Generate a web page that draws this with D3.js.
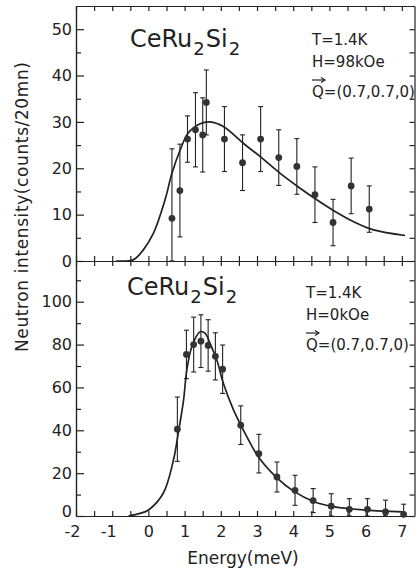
<!DOCTYPE html>
<html>
  <head>
    <meta charset="utf-8" />
    <script src="https://cdn.jsdelivr.net/npm/d3@7"></script>
    <style>
      body { margin: 0; background: #fff; }
      text { font-family: "DejaVu Sans", sans-serif; fill: #222; }
    </style>
  </head>
  <body>
    <div id="my_dataviz"></div>
    <script>
      // ---- data ----
      // top panel, H = 98 kOe
      var topE = [0.65, 0.87, 1.08, 1.3, 1.5, 1.6, 2.1, 2.6, 3.1, 3.6, 4.1, 4.6, 5.1, 5.6, 6.1];
      var topI = [9.2, 15.2, 26.3, 28.3, 27.2, 34.2, 26.3, 21.2, 26.3, 22.3, 20.4, 14.3, 8.3, 16.2, 11.2];
      var topErr = [15, 10, 5, 8, 8, 7, 7, 6, 7, 6, 6, 6, 5, 6, 5];
      var topFitE = [-0.9, -0.41, -0.14, 0.14, 0.46, 0.65, 0.88, 1.1, 1.43, 1.7, 2.07, 2.62, 3.09, 3.64, 4.19, 4.65, 5.11, 5.66, 6.22, 7.09];
      var topFitI = [0, 0.3, 2.4, 6.0, 13.2, 18.9, 24, 27.6, 29.6, 30.0, 29.0, 25.4, 22.5, 18.9, 15.7, 13.2, 10.9, 8.5, 6.7, 5.5];

      // bottom panel, H = 0 kOe
      var botE = [0.8, 1.05, 1.25, 1.45, 1.65, 1.85, 2.05, 2.55, 3.05, 3.55, 4.05, 4.55, 5.05, 5.55, 6.05, 6.55, 7.05];
      var botI = [40.5, 75.4, 80, 81.6, 79.6, 74.5, 68.5, 42.4, 29.1, 18.2, 12, 7.2, 4.6, 3.1, 3.1, 1.9, 0.8];
      var botErr = [15, 11.3, 12.8, 12.3, 12, 11, 11.3, 9, 9, 7, 7, 5.6, 5.8, 5, 5, 5.5, 4.7];
      var botFitE = [-0.55, -0.23, 0, 0.41, 0.69, 0.83, 0.97, 1.06, 1.2, 1.43, 1.57, 1.7, 1.89, 2.07, 2.35, 2.67, 3.04, 3.55, 4.01, 4.56, 5.11, 6.03, 7.0];
      var botFitI = [0, 1.2, 2.8, 10.6, 26, 39.3, 54, 68, 79, 86, 85.2, 80.6, 72.8, 61.9, 49.5, 38.6, 27.5, 17.8, 11.6, 6.8, 4.4, 2.7, 1.9];

      var xTicks = d3.range(-2, 7.01, 0.5);
      var topYTicks = [0, 10, 20, 30, 40, 50];
      var topYMinor = [5, 15, 25, 35, 45];
      var botYTicks = [0, 20, 40, 60, 80, 100];
      var botYMinor = [10, 30, 50, 70, 90, 110];

      var width = 417, height = 572;
      var padL = 76, padR = 414.5, frameTop = 6, frameMid = 261, frameBot = 516;
      var ink = "#222";

      var svg = d3.select("#my_dataviz").append("svg")
        .attr("width", width).attr("height", height);

      var x = d3.scaleLinear().domain([-2, 7.35]).range([padL, padR]);
      var yTop = d3.scaleLinear().domain([0, 55]).range([frameMid, frameTop]);
      var yBot = d3.scaleLinear().domain([0, 119]).range([frameBot, frameMid]);

      function styleAxis(g) {
        g.selectAll("path, line").attr("stroke", ink).attr("stroke-width", 1.2);
        g.selectAll("text").style("font-size", "16px").attr("fill", ink);
      }

      // frame: top border
      svg.append("g").attr("transform", "translate(0," + frameTop + ")")
        .call(d3.axisBottom(x).tickValues(xTicks).tickSize(5).tickSizeOuter(0).tickFormat(""))
        .call(styleAxis);
      // middle axis, ticks both sides
      svg.append("g").attr("transform", "translate(0," + frameMid + ")")
        .call(d3.axisBottom(x).tickValues(xTicks).tickSize(5).tickSizeOuter(0).tickFormat(""))
        .call(styleAxis);
      svg.append("g").attr("transform", "translate(0," + frameMid + ")")
        .call(d3.axisTop(x).tickValues(xTicks).tickSize(5).tickSizeOuter(0).tickFormat(""))
        .call(styleAxis);
      // bottom axis with labels (minus sign hangs left of the digit)
      svg.append("g").attr("transform", "translate(0," + frameBot + ")")
        .call(d3.axisBottom(x).tickValues(xTicks).tickSize(-5).tickSizeOuter(0).tickPadding(10)
          .tickFormat(function (d) { return d % 1 === 0 ? String(d) : ""; }))
        .call(styleAxis)
        .selectAll(".tick text")
        .attr("dx", function (d) { return d < 0 ? -4 : 0; });

      // left axes
      function leftAxis(scale, ticks, minor) {
        var g = svg.append("g").attr("transform", "translate(" + padL + ",0)")
          .call(d3.axisLeft(scale).tickValues(ticks).tickSize(-8).tickSizeOuter(0).tickPadding(4))
          .call(styleAxis);
        svg.append("g").attr("transform", "translate(" + padL + ",0)")
          .call(d3.axisLeft(scale).tickValues(minor).tickSize(-5).tickSizeOuter(0).tickFormat(""))
          .call(styleAxis);
        // right border ticks
        svg.append("g").attr("transform", "translate(" + padR + ",0)")
          .call(d3.axisLeft(scale).tickValues(ticks.concat(minor)).tickSize(5).tickSizeOuter(0).tickFormat(""))
          .call(styleAxis);
        return g;
      }
      leftAxis(yTop, topYTicks, topYMinor);
      // the bottom "0" sits a little above the axis line
      leftAxis(yBot, botYTicks, botYMinor)
        .selectAll(".tick text")
        .attr("dy", function (d) { return d === 0 ? "0.05em" : "0.32em"; });

      // error bars + points
      function drawData(E, I, err, y) {
        var data = E.map(function (e, i) { return { e: e, v: I[i], s: err[i] }; });
        var lo = function (d) { return y(Math.max(0, d.v - d.s)); };
        var hi = function (d) { return y(d.v + d.s); };
        var g = svg.append("g").attr("stroke", ink).attr("stroke-width", 1.1);
        g.selectAll(".bar").data(data).enter().append("line")
          .attr("x1", function (d) { return x(d.e); }).attr("x2", function (d) { return x(d.e); })
          .attr("y1", lo).attr("y2", hi);
        g.selectAll(".capT").data(data).enter().append("line")
          .attr("x1", function (d) { return x(d.e) - 2.5; }).attr("x2", function (d) { return x(d.e) + 2.5; })
          .attr("y1", hi).attr("y2", hi);
        g.selectAll(".capB").data(data).enter().append("line")
          .attr("x1", function (d) { return x(d.e) - 2.5; }).attr("x2", function (d) { return x(d.e) + 2.5; })
          .attr("y1", lo).attr("y2", lo);
        svg.append("g").selectAll("circle").data(data).enter().append("circle")
          .attr("cx", function (d) { return x(d.e); })
          .attr("cy", function (d) { return y(d.v); })
          .attr("r", 3.4).attr("fill", "#333");
      }

      function drawFit(E, I, y) {
        var line = d3.line()
          .x(function (d, i) { return x(E[i]); })
          .y(function (d, i) { return y(I[i]); })
          .curve(d3.curveCatmullRom.alpha(0.5));
        svg.append("path").datum(E).attr("d", line)
          .attr("fill", "none").attr("stroke", ink).attr("stroke-width", 1.7);
      }

      drawFit(topFitE, topFitI, yTop);
      drawData(topE, topI, topErr, yTop);
      drawFit(botFitE, botFitI, yBot);
      drawData(botE, botI, botErr, yBot);

      // titles
      function formula(xp, yp) {
        var t = svg.append("text").attr("x", xp).attr("y", yp).style("font-size", "24px");
        t.append("tspan").text("CeRu");
        t.append("tspan").attr("dy", 8).attr("dx", 1).style("font-size", "18px").text("2");
        t.append("tspan").attr("dy", -8).attr("dx", 1).text("Si");
        t.append("tspan").attr("dy", 8).attr("dx", 1).style("font-size", "18px").text("2");
      }
      formula(130, 47);
      formula(127, 295);

      function notes(xp, yT, field) {
        var fs = "15px";
        svg.append("text").attr("x", xp).attr("y", yT).style("font-size", fs).text("T=1.4K");
        svg.append("text").attr("x", xp).attr("y", yT + 22).style("font-size", fs).text(field);
        svg.append("text").attr("x", xp).attr("y", yT + 52).style("font-size", fs).text("Q=(0.7,0.7,0)");
        // vector arrow above Q
        var ay = yT + 35;
        svg.append("line").attr("x1", xp).attr("x2", xp + 12).attr("y1", ay).attr("y2", ay)
          .attr("stroke", ink).attr("stroke-width", 1.2);
        svg.append("path").attr("d", "M" + (xp + 9) + "," + (ay - 2.5) + "L" + (xp + 13) + "," + ay + "L" + (xp + 9) + "," + (ay + 2.5))
          .attr("fill", "none").attr("stroke", ink).attr("stroke-width", 1.2);
      }
      notes(312, 45, "H=98kOe");
      notes(306, 298, "H=0kOe");

      // axis titles
      svg.append("text")
        .attr("transform", "translate(28,207) rotate(-90)")
        .attr("text-anchor", "middle")
        .style("font-size", "17px")
        .attr("textLength", 290)
        .text("Neutron intensity(counts/20mn)");
      svg.append("text")
        .attr("x", 243).attr("y", 564)
        .attr("text-anchor", "middle")
        .style("font-size", "17px")
        .text("Energy(meV)");
    </script>
  </body>
</html>
